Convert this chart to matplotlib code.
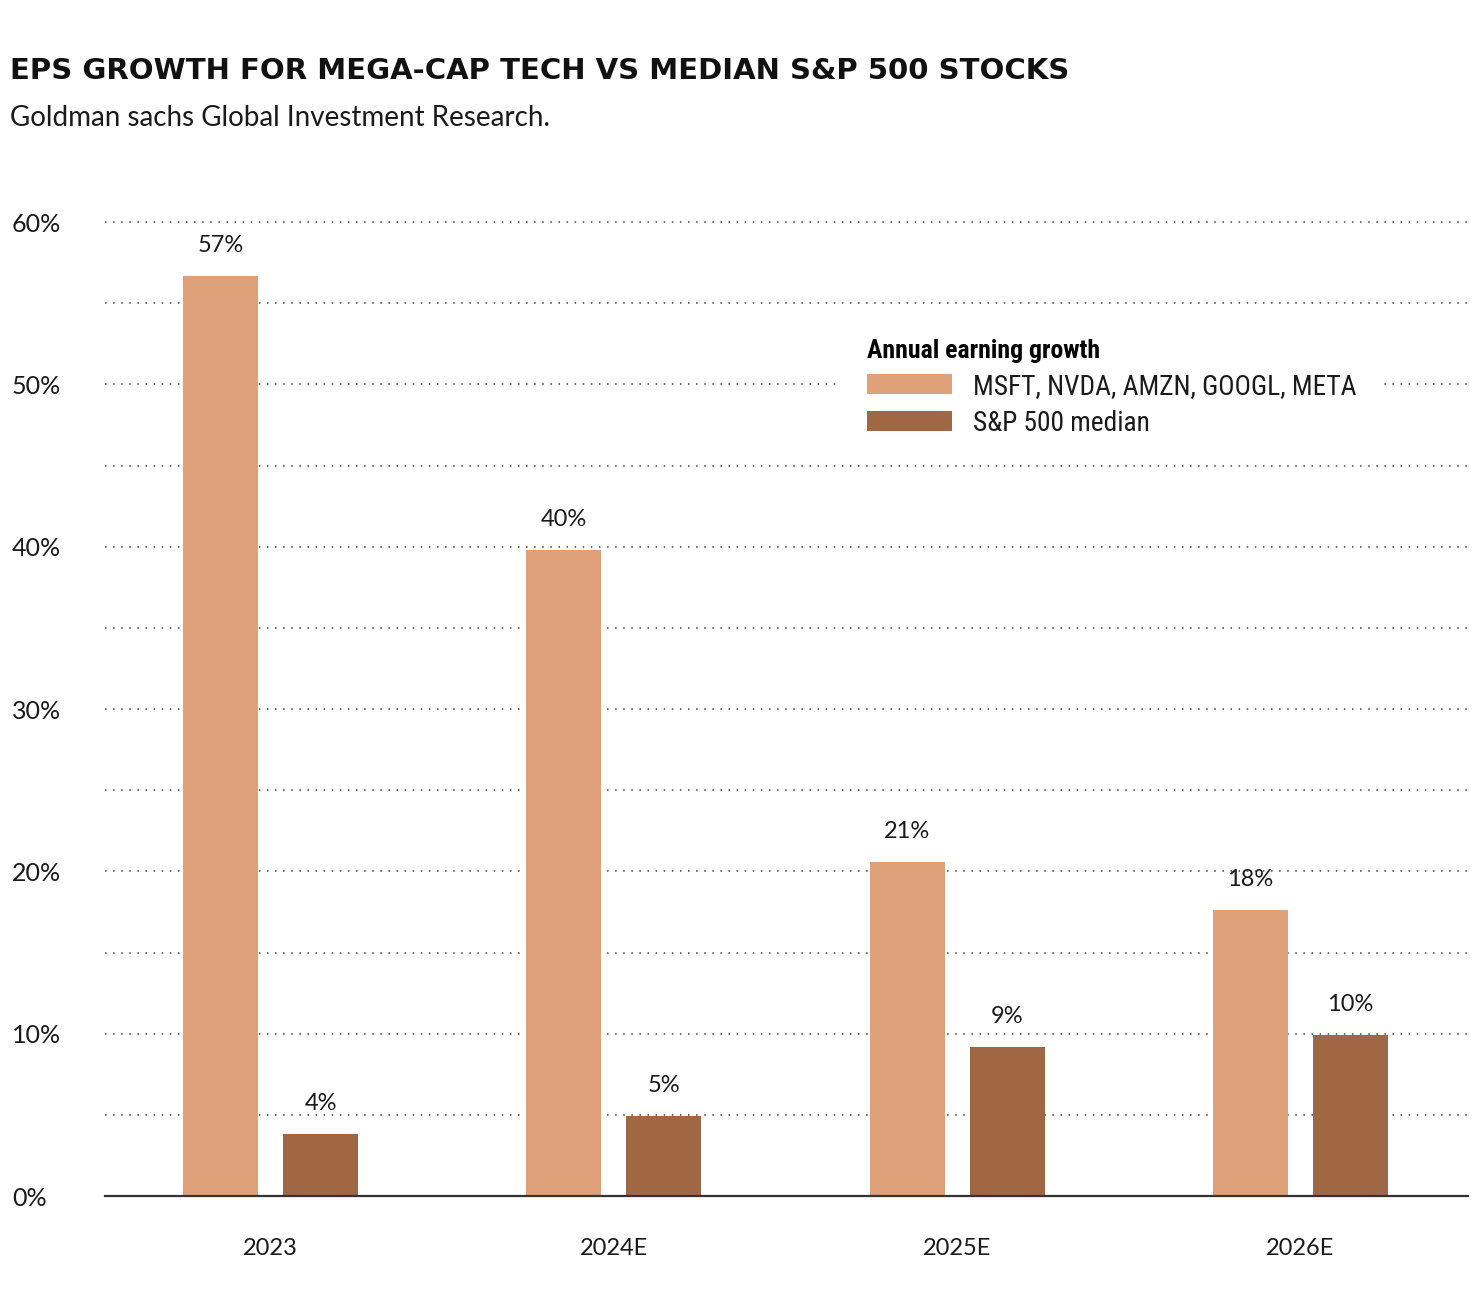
import matplotlib
matplotlib.use("Agg")
import matplotlib.pyplot as plt
from matplotlib import font_manager as fm
import numpy as np

# ---- data ----
years = ["2023", "2024E", "2025E", "2026E"]
mega_cap = [56.7, 39.8, 20.6, 17.6]
sp500_median = [3.8, 4.9, 9.2, 9.9]
series_names = ["MSFT, NVDA, AMZN, GOOGL, META", "S&P 500 median"]
yticks = [0, 10, 20, 30, 40, 50, 60]
ytick_labels = ["0%", "10%", "20%", "30%", "40%", "50%", "60%"]

title = "EPS GROWTH FOR MEGA-CAP TECH VS MEDIAN S&P 500 STOCKS"
subtitle = "Goldman sachs Global Investment Research."
legend_title = "Annual earning growth"

# ---- fonts ----
avail = {f.name for f in fm.fontManager.ttflist}
narrow = next((n for n in ["Roboto Condensed", "Liberation Sans Narrow", "Roboto"] if n in avail), "DejaVu Sans")
body = "Lato" if "Lato" in avail else "DejaVu Sans"

light = "#DFA17A"
dark = "#A06744"

W, H = 1476, 1316
fig = plt.figure(figsize=(W / 100, H / 100), dpi=100)
fig.patch.set_facecolor("white")

ymax = 60.5
px_per_unit = 162.33 / 10
ax_h = ymax * px_per_unit
ax = fig.add_axes([105 / W, (H - 1196) / H, (1468 - 105) / W, ax_h / H])

x = np.arange(len(years))
bw = 0.2185
off = 0.1457
b1 = ax.bar(x - off, mega_cap, bw, color=light, zorder=2, label=series_names[0])
b2 = ax.bar(x + off, sp500_median, bw, color=dark, zorder=2, label=series_names[1])

for bars, vals in ((b1, mega_cap), (b2, sp500_median)):
    for rect, v in zip(bars, vals):
        ax.annotate(f"{v:.0f}%", (rect.get_x() + rect.get_width() / 2, v),
                    xytext=(0, 22), textcoords="offset points",
                    ha="center", va="center", fontsize=17, family=body,
                    color="#1a1a1a")

ax.set_xlim(-0.482, 3.488)
ax.set_ylim(0, ymax)

# dotted gridlines every 5%
for g in np.arange(5, 61, 5):
    ax.axhline(g, color="#444444", lw=1.1, linestyle=(0, (1.0, 4.3)), zorder=1)

ax.set_yticks(yticks)
ax.set_yticklabels(ytick_labels, family=body, fontsize=18, color="#1a1a1a")
for lab in ax.get_yticklabels():
    lab.set_horizontalalignment("left")
ax.tick_params(axis="y", length=0, pad=67)

ax.set_xticks(x)
ax.set_xticklabels(years, family=body, fontsize=17, color="#1a1a1a")
ax.tick_params(axis="x", length=0, pad=30)

for s in ["top", "right", "left"]:
    ax.spines[s].set_visible(False)
ax.spines["bottom"].set_color("#333333")
ax.spines["bottom"].set_linewidth(1.6)
ax.spines["bottom"].set_zorder(3)

leg = ax.legend(loc="upper left", bbox_to_anchor=(840 / W, 1 - 312 / H),
                bbox_transform=fig.transFigure, borderaxespad=0,
                title=legend_title, alignment="left",
                prop={"family": narrow, "size": 19.7},
                title_fontproperties={"family": narrow, "size": 18.5, "weight": "bold"},
                frameon=True, fancybox=False, framealpha=1, facecolor="white",
                edgecolor="none", handlelength=3.1, handleheight=0.75,
                handletextpad=0.75, labelspacing=0.35, borderpad=1.0)
leg.set_zorder(5)
for t in leg.get_texts():
    t.set_color("#1a1a1a")

fig.text(10 / W, 1 - 71 / H, title, fontsize=21, fontweight="bold",
         family="DejaVu Sans", va="center", ha="left", color="#111111")
fig.text(10 / W, 1 - 118 / H, subtitle, fontsize=20, family=body,
         va="center", ha="left", color="#1a1a1a")

fig.savefig("out.png", dpi=100, facecolor="white")
